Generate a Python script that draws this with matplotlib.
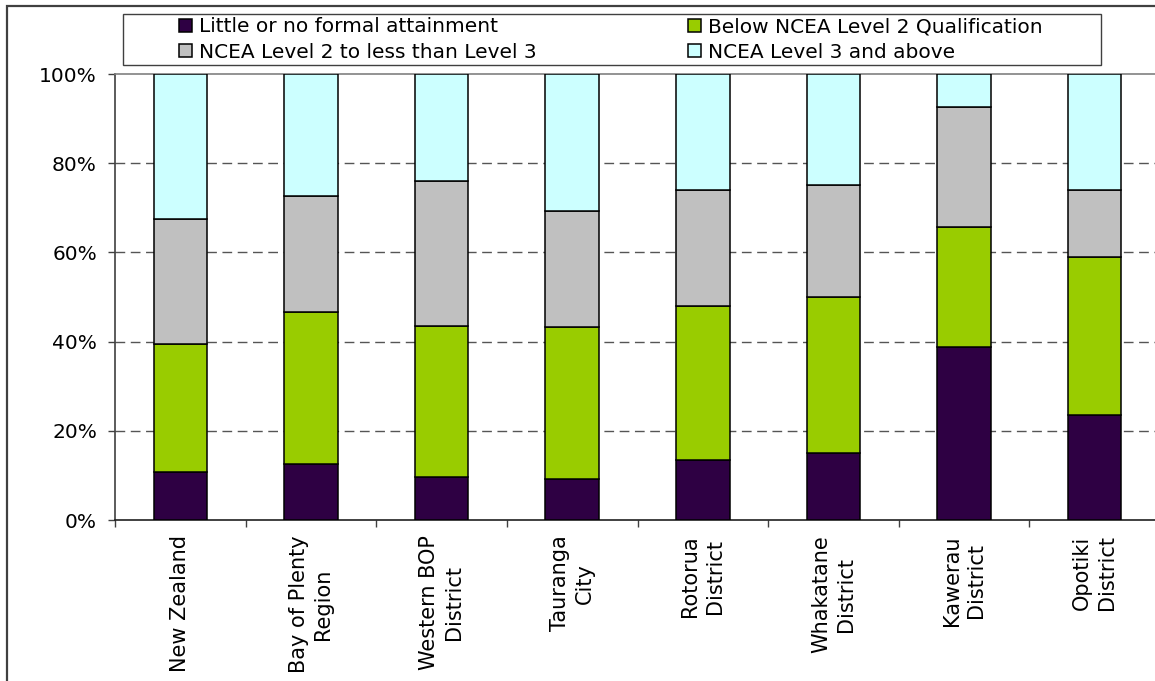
import numpy as np
import matplotlib
matplotlib.use("Agg")
import matplotlib.pyplot as plt
from matplotlib.patches import Rectangle
from matplotlib.ticker import PercentFormatter

categories = ["New Zealand", "Bay of Plenty\nRegion", "Western BOP\nDistrict", "Tauranga\nCity",
              "Rotorua\nDistrict", "Whakatane\nDistrict", "Kawerau\nDistrict", "Opotiki\nDistrict"]

series_names = ["Little or no formal attainment", "Below NCEA Level 2 Qualification",
                "NCEA Level 2 to less than Level 3", "NCEA Level 3 and above"]

little = [10.8, 12.6, 9.7, 9.2, 13.5, 15.1, 38.8, 23.6]
below_l2 = [28.7, 34.1, 33.7, 34.1, 34.5, 35.0, 27.0, 35.4]
l2_to_l3 = [27.9, 25.9, 32.5, 25.9, 25.9, 25.0, 26.7, 14.9]
l3_above = [32.6, 27.4, 24.1, 30.8, 26.1, 24.9, 7.5, 26.1]

colors = ["#2E0043", "#99CC00", "#C0C0C0", "#CCFFFF"]

W, H = 1155, 681
fig = plt.figure(figsize=(W / 100, H / 100), dpi=100)

# outer chart frame
fig.patches.append(Rectangle((6.5 / W, -0.1), 1.2, 1 - 6.5 / H + 0.1, transform=fig.transFigure,
                             fill=False, edgecolor="#404040", linewidth=1.6))

ax = fig.add_axes([115 / W, 1 - 520 / H, 1045 / W, 446 / H])

x = np.arange(len(categories))
series = [little, below_l2, l2_to_l3, l3_above]
bottom = np.zeros(len(categories))
handles = []
for vals, col, name in zip(series, colors, series_names):
    v = np.array(vals) / 100.0
    b = ax.bar(x, v, width=0.41, bottom=bottom, color=col, edgecolor="black",
               linewidth=1.1, label=name, zorder=3)
    handles.append(b)
    bottom += v

ax.set_xlim(-0.5, len(categories) - 0.5)
ax.set_ylim(0, 1)

ax.set_yticks(np.arange(0, 1.01, 0.2))
ax.yaxis.set_major_formatter(PercentFormatter(1.0, decimals=0))
ax.tick_params(axis="y", direction="out", length=5, width=1, pad=8, labelsize=14.5, color="#404040")

ax.set_xticks(x)
ax.set_xticklabels(categories, rotation=90, ha="center", va="top", fontsize=15,
                   multialignment="center", linespacing=1.3)
ax.set_xticks(np.arange(-0.5, len(categories), 1), minor=True)
ax.tick_params(axis="x", which="major", length=0, pad=11)
ax.tick_params(axis="x", which="minor", direction="out", length=5, width=1, color="#404040")

for yv in [0.2, 0.4, 0.6, 0.8]:
    ax.axhline(yv, color="#555555", linewidth=1.0, dashes=(7, 4), zorder=1)

ax.spines["top"].set_color("#808080")
ax.spines["right"].set_color("#808080")
ax.spines["left"].set_color("#404040")
ax.spines["bottom"].set_color("#202020")
for s in ax.spines.values():
    s.set_linewidth(1.2)

# legend box
fig.patches.append(Rectangle((123 / W, 1 - 65 / H), (1101 - 123) / W, 51 / H,
                             transform=fig.transFigure, facecolor="white",
                             edgecolor="#404040", linewidth=1.0, zorder=5))

order = [0, 2, 1, 3]
leg = fig.legend([handles[i] for i in order], [series_names[i] for i in order], ncol=2,
                 loc="center", bbox_to_anchor=(179 / W, 1 - 65 / H, (1043 - 179) / W, 51 / H),
                 mode="expand", fontsize=14.5, frameon=False,
                 handlelength=0.65, handleheight=0.65, handletextpad=0.35,
                 labelspacing=0.3, borderpad=0, borderaxespad=0, columnspacing=1.0)
leg.set_zorder(6)

fig.savefig("out.png", dpi=100)
